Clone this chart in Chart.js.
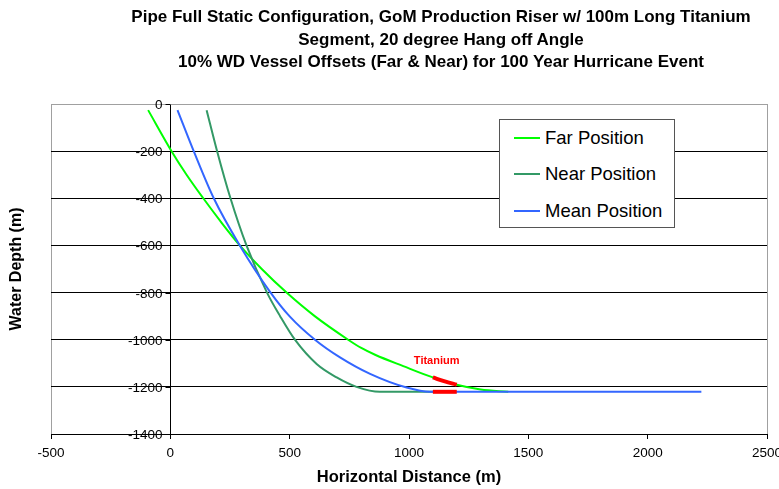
<!DOCTYPE html>
<html>
<head>
<meta charset="utf-8">
<script src="https://cdn.jsdelivr.net/npm/chart.js@4.4.1/dist/chart.umd.min.js"></script>
<style>
  html, body { margin: 0; padding: 0; background: #fff; }
  #wrap { position: relative; width: 779px; height: 489px; font-family: "Liberation Sans", Arial, sans-serif; }
  .tline { position: absolute; width: 800px; text-align: center; font-weight: bold; font-size: 17px;
           line-height: 22px; white-space: nowrap; color: #000; }
  #legend { position: absolute; left: 499px; top: 119px; width: 176px; height: 109px;
            border: 1px solid #555; background: #fff; box-sizing: border-box; }
  .item { position: absolute; left: 0; height: 24px; width: 100%; }
  .item .swatch { position: absolute; left: 14px; top: 11px; width: 26px; height: 2px; }
  .item .lbl { position: absolute; left: 45px; top: 0; font-size: 18.5px; line-height: 24px; color: #000; white-space: nowrap; }
</style>
</head>
<body>
<div id="wrap">
  <canvas id="chart" width="779" height="489"></canvas>
  <div class="tline" style="left:41px; top:6px">Pipe Full Static Configuration, GoM Production Riser w/ 100m Long Titanium</div>
  <div class="tline" style="left:41px; top:29px">Segment, 20 degree Hang off Angle</div>
  <div class="tline" style="left:41px; top:51px">10% WD Vessel Offsets (Far &amp; Near) for 100 Year Hurricane Event</div>
  <div id="legend"></div>
</div>
<script>
// riser profiles (x = horizontal distance m, y = water depth m)
var farX = [-93, 5, 68, 138, 212, 291, 383, 487, 605, 745, 800, 860, 976, 1100, 1200, 1300, 1416];
var farY = [-26, -200, -300, -400, -500, -600, -700, -800, -900, -1000, -1035, -1065, -1112, -1160, -1191, -1211, -1221];

var nearX = [152, 196, 252, 319, 405, 460, 522, 613, 697, 780, 878, 1200];
var nearY = [-26, -200, -400, -600, -800, -900, -1000, -1103, -1160, -1200, -1221, -1221];

var meanX = [30, 98, 182, 291, 420, 501, 606, 711, 837, 990, 1088, 2225];
var meanY = [-26, -200, -400, -600, -800, -902, -1000, -1075, -1145, -1203, -1221, -1221];

// titanium segments
var tiFarX = [1100, 1150, 1200];
var tiFarY = [-1160, -1177, -1191];
var tiNearX = [1100, 1200];
var tiNearY = [-1221, -1221];

var xTicks = [-500, 0, 500, 1000, 1500, 2000, 2500];
var yTicks = [0, -200, -400, -600, -800, -1000, -1200, -1400];

var seriesNames = ["Far Position", "Near Position", "Mean Position"];
var seriesColors = ["#00ff00", "#339966", "#3366ff"];

function pts(xs, ys) {
    return xs.map(function (x, i) { return {x: x, y: ys[i]}; });
}

var FONT = '"Liberation Sans", Arial, sans-serif';

// y axis sits at x = 0 like the Excel original
var yAxisAtZero = {
    id: "yAxisAtZero",
    afterDatasetsDraw: function (chart) {
        var ctx = chart.ctx;
        var xs = chart.scales.x, ys = chart.scales.y;
        var px = Math.round(xs.getPixelForValue(0)) + 0.5;
        ctx.save();
        ctx.strokeStyle = "#000";
        ctx.lineWidth = 1;
        ctx.fillStyle = "#000";
        ctx.font = "13.5px " + FONT;
        ctx.textAlign = "right";
        ctx.textBaseline = "middle";
        yTicks.forEach(function (v) {
            var py = Math.round(ys.getPixelForValue(v)) + 0.5;
            ctx.beginPath();
            ctx.moveTo(px - 5, py);
            ctx.lineTo(px, py);
            ctx.stroke();
            ctx.fillText(String(v), px - 8, py + 1);
        });
        // Titanium tag
        ctx.fillStyle = "#ff0000";
        ctx.font = "bold 11px " + FONT;
        ctx.textAlign = "center";
        ctx.fillText("Titanium", xs.getPixelForValue(1116), ys.getPixelForValue(-1089));
        ctx.restore();
    }
};

var datasets = [
    {label: "ti1", data: pts(tiFarX, tiFarY), borderColor: "#ff0000", borderWidth: 4, order: 0},
    {label: "ti2", data: pts(tiNearX, tiNearY), borderColor: "#ff0000", borderWidth: 4, order: 0},
    {label: seriesNames[2], data: pts(meanX, meanY), borderColor: seriesColors[2], borderWidth: 2, order: 1},
    {label: seriesNames[1], data: pts(nearX, nearY), borderColor: seriesColors[1], borderWidth: 2, order: 2},
    {label: seriesNames[0], data: pts(farX, farY), borderColor: seriesColors[0], borderWidth: 2, order: 3},
];
datasets.forEach(function (d) {
    d.showLine = true;
    d.pointRadius = 0;
    d.fill = false;
    d.cubicInterpolationMode = "monotone";
});

new Chart(document.getElementById("chart"), {
    type: "scatter",
    data: {datasets: datasets},
    options: {
        responsive: false,
        animation: false,
        events: [],
        layout: {padding: {top: 104, right: 12, left: 0, bottom: 0}},
        plugins: {legend: {display: false}, title: {display: false}, tooltip: {enabled: false}},
        scales: {
            x: {
                type: "linear",
                min: -500,
                max: 2500,
                afterBuildTicks: function (s) { s.ticks = xTicks.map(function (v) { return {value: v}; }); },
                afterFit: function (s) { s.height = 55; s.paddingRight = 0; s.paddingLeft = 0; },
                ticks: {
                    color: "#000",
                    font: {family: FONT, size: 13.5},
                    padding: 6,
                    maxRotation: 0,
                    callback: function (v) { return String(v); }
                },
                grid: {
                    drawOnChartArea: true,
                    color: function (c) {
                        if (!c.tick) return "rgba(0,0,0,0)";
                        if (c.tick.value === 0) return "#000";
                        if (c.tick.value === -500 || c.tick.value === 2500) return "#a0a0a0";
                        return "rgba(0,0,0,0)";
                    },
                    tickColor: "#000",
                    tickLength: 5,
                    lineWidth: 1
                },
                border: {display: true, color: "#000", width: 1},
                title: {
                    display: true,
                    text: "Horizontal Distance (m)",
                    color: "#000",
                    font: {family: FONT, size: 16.5, weight: "bold"},
                    padding: {top: 0, bottom: 2}
                }
            },
            y: {
                type: "linear",
                position: "left",
                min: -1400,
                max: 0,
                afterBuildTicks: function (s) { s.ticks = yTicks.map(function (v) { return {value: v}; }); },
                afterFit: function (s) { s.width = 51; },
                ticks: {display: false},
                grid: {
                    drawTicks: false,
                    color: function (c) {
                        if (c.tick && c.tick.value === 0) return "#a0a0a0";
                        return "#000";
                    },
                    lineWidth: 1
                },
                border: {display: false},
                title: {
                    display: true,
                    text: "Water Depth (m)",
                    color: "#000",
                    font: {family: FONT, size: 16, weight: "bold"},
                    padding: {top: 7, bottom: 0}
                }
            }
        }
    },
    plugins: [yAxisAtZero]
});

// legend box drawn in html, same order as the reference
var legend = document.getElementById("legend");
var rowTops = [6, 42, 79];
seriesNames.forEach(function (name, i) {
    var row = document.createElement("div");
    row.className = "item";
    row.style.top = rowTops[i] + "px";
    row.innerHTML = '<div class="swatch" style="background:' + seriesColors[i] + '"></div><div class="lbl">' + name + "</div>";
    legend.appendChild(row);
});
</script>
</body>
</html>
